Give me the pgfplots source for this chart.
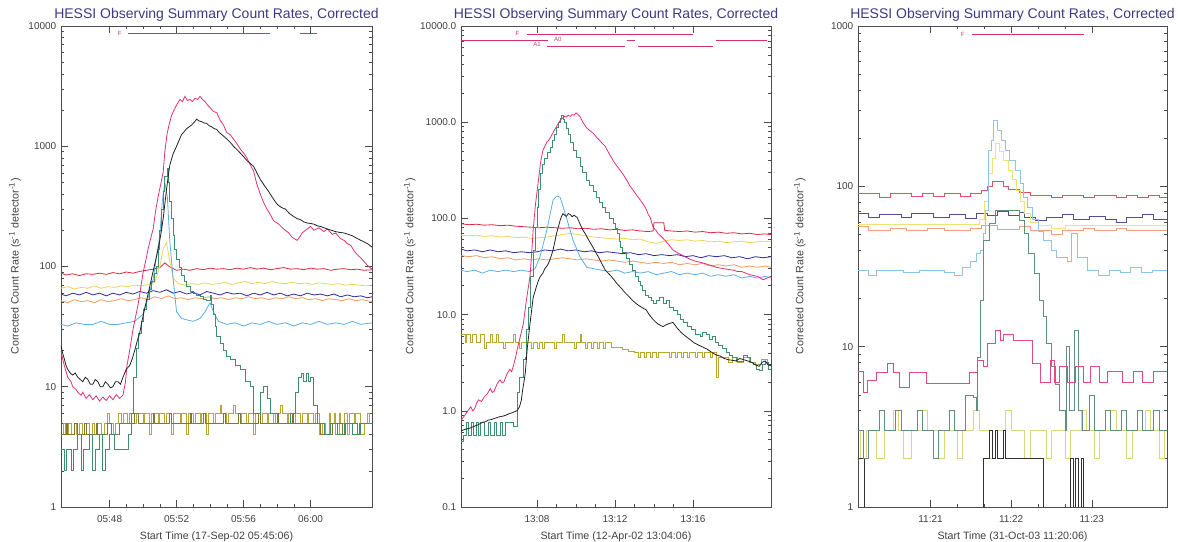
\documentclass[border=0pt]{standalone}
\usepackage{fontspec}
\setmainfont{Liberation Sans}
\usepackage{pgfplots}
\pgfplotsset{compat=1.18}

\definecolor{cblack}{HTML}{222222}
\definecolor{cpink}{HTML}{E0307A}
\definecolor{cgreen}{HTML}{3D8F6E}
\definecolor{ccyan}{HTML}{5AAEE6}
\definecolor{cred}{HTML}{D92B3A}
\definecolor{cyellow}{HTML}{F2D35A}
\definecolor{cblue}{HTML}{2B2BA0}
\definecolor{corange}{HTML}{F39A5E}
\definecolor{colive}{HTML}{B8A632}
\definecolor{colive2}{HTML}{7D7A2E}
\definecolor{c3red}{HTML}{E3506A}
\definecolor{c3blue}{HTML}{50509A}
\definecolor{c3salmon}{HTML}{F0A080}
\definecolor{c3yellow}{HTML}{ECE47A}
\definecolor{c3lblue}{HTML}{8CC4EA}
\definecolor{c3green}{HTML}{5F8F7F}
\definecolor{c3pink}{HTML}{E04A80}
\definecolor{c3ylow}{HTML}{D8D878}
\definecolor{c3black}{HTML}{333333}
\definecolor{titlecol}{HTML}{3A3A80}
\definecolor{flagcol}{HTML}{D8306A}

\pgfplotsset{hessi/.style={
  scale only axis, height=360.75pt, anchor=south west,
  axis line style={draw=black!70, line width=0.5pt},
  tick style={draw=black!70, line width=0.4pt},
  major tick length=5.5pt, minor tick length=2.5pt,
  tick align=inside,
  tick label style={font=\fontsize{7.5}{9}\selectfont, text=black!75},
  xticklabel style={yshift=-3pt},
  label style={font=\fontsize{8}{9.5}\selectfont, text=black!75},
  every axis title shift=0pt,
  title style={font=\fontsize{10.5}{12}\selectfont, text=titlecol, at={(axis description cs:0.5,1)}, anchor=south, yshift=0pt},
  title={HESSI Observing Summary Count Rates, Corrected},
  ylabel={Corrected Count Rate (s\textsuperscript{-1} detector\textsuperscript{-1})},
  every axis plot/.append style={line width=0.6pt, mark=none},
}}

\begin{document}
\begin{tikzpicture}
\path[use as bounding box] (0,0) rectangle (883.5pt,406.5pt);

% ================= PANEL 1 =================
\begin{axis}[ymode=log, hessi, at={(45.75pt,26.25pt)}, width=233.25pt,
  xmin=45.1, xmax=63.67, ymin=1, ymax=10000,
  xtick={48,52,56,60}, xticklabels={05:48,05:52,05:56,06:00}, minor x tick num=3,
  ytick={1,10,100,1000,10000}, yticklabels={1,10,100,1000,10000},
  xlabel={Start Time (17-Sep-02 05:45:06)},
  ylabel style={at={(axis description cs:-0.148,0.5)}, anchor=center},
]
% flat lines
\addplot[cred] coordinates {(45.1,88)(45.4,85)(45.8,87)(46.2,84)(46.6,87)(47.0,86)(47.4,88)(47.8,86)(48.2,89)(48.6,87)(49.0,90)(49.4,88)(49.8,91)(50.2,93)(50.6,95)(51.0,98)(51.3,107)(51.6,99)(52.0,93)(52.4,95)(52.8,93)(53.2,96)(53.6,94)(54.0,97)(54.4,95)(54.8,96)(55.2,94)(55.6,97)(56.0,95)(56.4,98)(56.8,95)(57.2,97)(57.6,94)(58.0,96)(58.4,98)(58.8,95)(59.2,96)(59.6,94)(60.0,97)(60.4,95)(60.8,96)(61.2,93)(61.6,95)(62.0,96)(62.4,94)(62.8,95)(63.2,93)(63.67,94)};
\addplot[cyellow] coordinates {(45.1,66)(45.5,68)(45.9,65)(46.3,67)(46.7,66)(47.1,69)(47.5,66)(47.9,68)(48.3,67)(48.7,69)(49.1,68)(49.5,70)(49.9,69)(50.3,71)(50.7,74)(51.0,100)(51.2,140)(51.4,158)(51.6,110)(51.8,80)(52.1,72)(52.5,70)(52.9,72)(53.3,71)(53.7,73)(54.1,71)(54.5,72)(54.9,74)(55.3,71)(55.7,73)(56.1,75)(56.5,72)(56.9,74)(57.3,72)(57.7,75)(58.1,73)(58.5,72)(58.9,74)(59.3,72)(59.7,73)(60.1,71)(60.5,73)(60.9,72)(61.3,71)(61.7,72)(62.1,70)(62.5,71)(62.9,70)(63.3,69)(63.67,70)};
\addplot[cblue] coordinates {(45.1,59)(45.4,57)(45.8,60)(46.2,58)(46.6,61)(47.0,58)(47.4,60)(47.8,57)(48.2,60)(48.6,58)(49.0,61)(49.4,59)(49.8,62)(50.2,60)(50.6,63)(51.0,61)(51.4,64)(51.8,60)(52.2,62)(52.6,59)(53.0,61)(53.4,58)(53.8,62)(54.2,60)(54.6,58)(55.0,61)(55.4,59)(55.8,60)(56.2,57)(56.6,60)(57.0,58)(57.4,61)(57.8,58)(58.2,60)(58.6,57)(59.0,59)(59.4,57)(59.8,60)(60.2,58)(60.6,59)(61.0,57)(61.4,59)(61.8,56)(62.2,58)(62.6,56)(63.0,57)(63.4,55)(63.67,56)};
\addplot[corange] coordinates {(45.1,52)(45.5,50)(45.9,53)(46.3,51)(46.7,52)(47.1,50)(47.5,53)(47.9,51)(48.3,52)(48.7,54)(49.1,52)(49.5,53)(49.9,55)(50.3,53)(50.7,56)(51.1,54)(51.5,57)(51.9,54)(52.3,55)(52.7,53)(53.1,55)(53.5,54)(53.9,56)(54.3,54)(54.7,55)(55.1,53)(55.5,55)(55.9,54)(56.3,56)(56.7,54)(57.1,55)(57.5,53)(57.9,55)(58.3,54)(58.7,56)(59.1,54)(59.5,55)(59.9,53)(60.3,54)(60.7,52)(61.1,54)(61.5,53)(61.9,52)(62.3,54)(62.7,52)(63.1,53)(63.67,51)};
% bottom noise
\addplot[colive, const plot] coordinates {(45.1,4)(45.25,5)(45.35,4)(45.55,5)(45.7,4)(45.9,5)(46.0,4)(46.2,5)(46.35,4)(46.6,5)(46.8,4)(47.0,5)(47.1,4)(47.3,5)(47.5,4)(47.7,5)(47.85,6)(48.0,5)(48.2,4)(48.35,5)(48.5,6)(48.7,5)(48.85,6)(49.05,5)(49.2,6)(49.5,5)(49.6,6)(50.0,5)(50.1,6)(50.4,4)(50.5,6)(50.9,5)(51.0,6)(51.3,5)(51.4,6)(51.7,4)(51.8,6)(52.2,5)(52.3,6)(52.6,4)(52.7,6)(53.0,5)(53.1,6)(53.4,5)(53.5,6)(53.8,4)(53.9,6)(54.2,5)(54.3,6)(54.6,7)(54.7,6)(55.0,5)(55.1,6)(55.4,7)(55.5,6)(55.8,5)(55.9,6)(56.2,5)(56.3,6)(56.6,4)(56.7,6)(57.0,5)(57.1,6)(57.4,5)(57.5,6)(57.8,5)(57.9,6)(58.2,7)(58.3,6)(58.6,5)(58.7,6)(59.0,5)(59.1,6)(59.4,5)(59.5,6)(59.8,5)(59.9,6)(60.2,5)(60.3,6)(60.5,4)(60.7,5)(60.9,4)(61.1,6)(61.2,5)(61.4,6)(61.5,4)(61.7,6)(61.8,5)(62.0,6)(62.2,4)(62.3,6)(62.6,5)(62.7,6)(63.0,4)(63.2,5)(63.4,6)(63.5,5)(63.67,5)};
\addplot[colive2, const plot] coordinates {(45.1,4)(45.4,5)(45.5,4)(45.9,5)(46.05,4)(46.5,5)(46.6,4)(47.2,5)(47.3,4)(47.9,5)(48.1,4)(48.6,5)(48.8,5)(49.4,5)(49.5,6)(49.7,5)(50.6,6)(50.7,5)(51.5,5)(51.6,6)(51.7,5)(52.8,6)(52.9,5)(53.6,6)(53.7,5)(54.8,6)(54.9,5)(55.7,6)(55.8,5)(56.9,6)(57.0,5)(58.0,6)(58.1,5)(58.9,6)(59.0,5)(60.0,5)(60.6,4)(61.0,4)(61.3,5)(61.9,4)(62.1,5)(62.8,4)(62.9,5)(63.67,5)};
% cyan
\addplot[ccyan] coordinates {(45.1,33)(45.5,32)(46.0,34)(46.5,33)(47.0,33)(47.5,35)(48.0,33)(48.5,33)(49.0,34)(49.5,35)(49.8,38)(50.0,40)(50.3,55)(50.6,78)(50.8,120)(51.0,180)(51.15,350)(51.3,500)(51.45,380)(51.6,160)(51.8,78)(52.0,42)(52.3,37)(52.6,36)(53.0,35)(53.4,37)(53.7,42)(54.0,50)(54.2,42)(54.5,35)(55.0,33)(55.5,34)(56.0,32)(56.5,34)(57.0,33)(57.5,35)(58.0,33)(58.5,34)(59.0,32)(59.5,34)(60.0,33)(60.5,35)(61.0,33)(61.5,34)(62.0,33)(62.5,35)(63.0,33)(63.67,34)};
% green
\addplot[cgreen, const plot] coordinates {(45.1,3)(45.3,2)(45.45,3)(45.7,2)(45.85,3)(46.1,4)(46.3,2)(46.45,3)(46.8,4)(47.0,2)(47.15,3)(47.4,4)(47.6,2)(47.75,3)(48.0,4)(48.3,3)(48.6,3)(48.9,3)(49.1,4)(49.3,6)(49.45,12)(49.6,21)(49.75,28)(49.9,35)(50.05,44)(50.2,53)(50.35,64)(50.5,75)(50.65,88)(50.8,100)(50.9,140)(51.0,200)(51.1,300)(51.2,420)(51.3,560)(51.43,650)(51.5,500)(51.6,350)(51.7,250)(51.8,180)(51.9,140)(52.0,115)(52.15,98)(52.3,85)(52.45,75)(52.6,68)(52.8,62)(53.0,60)(53.2,57)(53.4,56)(53.6,53)(53.8,52)(54.0,58)(54.1,48)(54.2,40)(54.3,32)(54.4,26)(54.6,23)(54.8,20)(55.0,18)(55.2,17)(55.5,15)(55.8,14)(56.1,11)(56.4,10)(56.6,6)(56.8,6)(57.0,9)(57.2,10)(57.4,8)(57.6,6)(58.0,5)(58.4,5)(58.8,6)(59.1,9)(59.3,12)(59.45,13)(59.6,11)(59.75,13)(59.9,11)(60.0,12)(60.2,7)(60.4,5)(60.8,4)(61.2,5)(61.6,4)(62.0,5)(62.5,4)(63.0,5)(63.67,5)};
% pink
\addplot[cpink] coordinates {(45.1,20)(45.2,17)(45.3,15)(45.5,12)(45.7,11)(45.8,10)(46.0,9.5)(46.1,9)(46.3,8.5)(46.4,9)(46.6,8)(46.8,8.6)(47.0,7.8)(47.2,8.4)(47.4,7.6)(47.6,8.2)(47.8,7.7)(48.0,8.4)(48.2,7.8)(48.4,8.6)(48.6,8)(48.8,8.5)(48.95,11)(49.04,15)(49.2,20)(49.4,30)(49.55,38)(49.7,48)(49.85,65)(50.0,89)(50.15,110)(50.3,140)(50.45,170)(50.6,205)(50.75,290)(50.9,380)(51.05,480)(51.2,610)(51.3,900)(51.43,1260)(51.55,1500)(51.7,1800)(51.85,2000)(52.0,2200)(52.2,2450)(52.35,2350)(52.5,2600)(52.65,2400)(52.8,2450)(52.95,2350)(53.1,2500)(53.25,2450)(53.4,2600)(53.55,2450)(53.7,2350)(53.85,2200)(54.0,2100)(54.2,1950)(54.4,1900)(54.6,1650)(54.8,1500)(55.0,1300)(55.2,1250)(55.4,1150)(55.6,1050)(55.8,950)(56.0,880)(56.2,800)(56.4,700)(56.6,620)(56.8,480)(57.0,400)(57.2,340)(57.4,300)(57.6,270)(57.8,240)(58.1,225)(58.4,205)(58.7,190)(58.9,175)(59.2,165)(59.4,180)(59.5,190)(59.7,200)(60.0,215)(60.2,200)(60.5,210)(60.8,195)(61.0,205)(61.3,185)(61.5,190)(61.8,170)(62.0,165)(62.2,155)(62.4,150)(62.6,135)(62.8,125)(63.0,118)(63.2,110)(63.4,102)(63.67,95)};
% black
\addplot[cblack] coordinates {(45.1,22)(45.2,19)(45.3,17)(45.4,15)(45.5,14)(45.65,13)(45.8,12.5)(45.95,13)(46.1,12)(46.25,11.5)(46.4,11)(46.55,12)(46.7,11.5)(46.85,10.5)(47.0,10.5)(47.15,11.5)(47.3,11)(47.45,10)(47.6,10)(47.75,11)(47.9,10.5)(48.05,9.8)(48.2,10)(48.35,11)(48.5,11)(48.65,10.5)(48.8,12)(49.0,14)(49.2,15)(49.35,17)(49.5,20)(49.65,24)(49.8,28)(49.95,36)(50.1,45)(50.25,55)(50.4,68)(50.55,85)(50.7,105)(50.85,130)(51.0,165)(51.1,200)(51.2,250)(51.3,330)(51.4,436)(51.5,560)(51.6,700)(51.7,780)(51.8,870)(51.9,930)(52.0,1000)(52.15,1120)(52.3,1250)(52.45,1320)(52.6,1400)(52.75,1450)(52.9,1500)(53.05,1580)(53.2,1680)(53.35,1620)(53.5,1600)(53.65,1560)(53.8,1550)(53.95,1480)(54.1,1450)(54.25,1400)(54.4,1380)(54.55,1300)(54.7,1250)(54.85,1200)(55.0,1150)(55.2,1080)(55.4,1000)(55.6,940)(55.8,880)(56.0,820)(56.2,760)(56.4,720)(56.6,680)(56.8,600)(57.0,530)(57.25,470)(57.5,420)(57.75,370)(58.0,330)(58.25,310)(58.5,300)(58.75,275)(59.0,260)(59.2,250)(59.4,245)(59.6,235)(59.8,230)(60.0,228)(60.2,225)(60.4,218)(60.6,215)(60.8,210)(61.0,205)(61.25,200)(61.5,195)(61.75,192)(62.0,190)(62.25,185)(62.5,180)(62.75,172)(63.0,165)(63.2,160)(63.4,155)(63.67,145)};
% flags
\addplot[flagcol, line width=0.7pt] coordinates {(49.1,8700)(57.6,8700)};
\addplot[flagcol, line width=0.7pt] coordinates {(59.37,8700)(60.4,8700)};
\node[text=flagcol, font=\fontsize{4.5}{5}\selectfont] at (axis cs:48.6,8700) {F};
\draw[blue!55!black, line width=0.6pt] (rel axis cs:0,0) -- (rel axis cs:1,0);
\end{axis}

% ================= PANEL 2 =================
\begin{axis}[ymode=log, hessi, at={(345.75pt,26.25pt)}, width=232.5pt,
  xmin=4.1, xmax=20.0, ymin=0.1, ymax=10000,
  xtick={8,12,16}, xticklabels={13:08,13:12,13:16}, minor x tick num=3,
  ytick={0.1,1,10,100,1000,10000}, yticklabels={0.1,1.0,10.0,100.0,1000.0,10000.0},
  xlabel={Start Time (12-Apr-02 13:04:06)},
  ylabel style={at={(axis description cs:-0.165,0.5)}, anchor=center},
]
\addplot[cred] coordinates {(4.1,88)(4.5,86)(4.9,87)(5.3,85)(5.7,86)(6.1,84)(6.5,85)(6.9,83)(7.3,82)(7.7,81)(8.1,80)(8.5,81)(8.9,80)(9.3,79)(9.7,80)(10.1,78)(10.5,79)(10.9,77)(11.3,78)(11.7,76)(12.1,77)(12.5,75)(12.9,76)(13.3,74)(13.7,73)(13.95,74)(14.0,90)(14.5,90)(14.55,75)(14.9,74)(15.3,73)(15.7,74)(16.1,72)(16.5,73)(16.9,71)(17.3,72)(17.7,70)(18.1,71)(18.5,69)(18.9,70)(19.3,68)(19.7,69)(20.0,68)};
\addplot[cyellow] coordinates {(4.1,67)(4.5,66)(4.9,67)(5.3,65)(5.7,66)(6.1,64)(6.5,65)(6.9,63)(7.3,64)(7.7,62)(8.1,63)(8.5,64)(8.9,66)(9.3,68)(9.7,70)(10.1,68)(10.5,66)(10.9,64)(11.3,63)(11.7,62)(12.1,61)(12.5,62)(12.9,60)(13.3,61)(13.7,57)(14.1,55)(14.5,58)(14.9,60)(15.3,59)(15.7,60)(16.1,58)(16.5,59)(16.9,57)(17.3,58)(17.7,56)(18.1,57)(18.5,58)(18.9,56)(19.3,57)(19.7,58)(20.0,57)};
\addplot[cblue] coordinates {(4.1,48)(4.4,46)(4.8,47)(5.2,45)(5.6,47)(6.0,45)(6.4,46)(6.8,44)(7.2,45)(7.6,44)(8.0,45)(8.4,47)(8.8,46)(9.2,48)(9.6,46)(10.0,47)(10.4,45)(10.8,46)(11.2,44)(11.6,45)(12.0,44)(12.4,43)(12.8,44)(13.2,42)(13.6,43)(14.0,41)(14.4,42)(14.8,41)(15.2,42)(15.6,40)(16.0,41)(16.4,39)(16.8,41)(17.2,40)(17.6,41)(18.0,39)(18.4,40)(18.8,38)(19.2,40)(19.6,39)(20.0,40)};
\addplot[corange] coordinates {(4.1,41)(4.5,40)(4.9,41)(5.3,39)(5.7,40)(6.1,38)(6.5,39)(6.9,37)(7.3,38)(7.7,37)(8.1,38)(8.5,37)(8.9,38)(9.3,39)(9.7,38)(10.1,37)(10.5,38)(10.9,37)(11.3,36)(11.7,37)(12.1,36)(12.5,35)(12.9,36)(13.3,35)(13.7,34)(14.1,35)(14.5,34)(14.9,35)(15.3,33)(15.7,34)(16.1,33)(16.5,34)(16.9,32)(17.3,33)(17.7,32)(18.1,33)(18.5,31)(18.9,32)(19.3,31)(19.7,32)(20.0,31)};
\addplot[ccyan] coordinates {(4.1,29)(4.4,28)(4.8,29)(5.2,27)(5.6,29)(6.0,28)(6.4,29)(6.8,28)(7.2,29)(7.6,28)(7.9,30)(8.15,40)(8.5,75)(8.82,155)(9.0,170)(9.18,166)(9.3,140)(9.5,103)(9.85,59)(10.2,40)(10.55,31)(10.9,30)(11.3,29)(11.7,28)(12.1,29)(12.5,27)(12.9,28)(13.3,27)(13.7,28)(14.1,26)(14.5,27)(14.9,28)(15.3,26)(15.7,27)(16.1,26)(16.5,27)(16.9,25)(17.3,26)(17.7,25)(18.1,26)(18.5,24)(18.9,25)(19.3,24)(19.7,25)(20.0,24)};
\addplot[colive, const plot] coordinates {(4.1,6.2)(4.3,5.1)(4.4,6.2)(4.6,5.1)(4.7,6.2)(4.9,5.1)(5.1,6.2)(5.3,4.5)(5.4,5.1)(5.6,6.2)(5.7,5.1)(5.9,6.2)(6.0,5.1)(6.3,4.5)(6.4,5.1)(6.6,5.1)(6.8,6.2)(6.9,5.1)(7.1,4.5)(7.2,5.1)(7.5,5.1)(7.7,4.5)(7.8,5.1)(8.0,4.5)(8.1,5.1)(8.3,4.5)(8.4,5.1)(8.7,5.1)(8.9,4.5)(9.0,5.1)(9.3,6.2)(9.4,5.1)(9.7,5.1)(9.9,4.5)(10.0,5.1)(10.2,6.2)(10.3,5.1)(10.5,4.5)(10.6,5.1)(10.8,4.5)(10.9,5.1)(11.1,4.5)(11.2,5.1)(11.4,4.5)(11.5,5.1)(11.8,4.6)(12.1,4.6)(12.4,4.3)(12.7,4.1)(13.0,4.0)(13.2,3.6)(13.3,4.0)(13.5,3.6)(13.6,4.0)(13.8,3.6)(13.9,4.0)(14.1,3.6)(14.2,4.0)(14.6,4.0)(14.8,3.6)(14.9,4.0)(15.1,3.6)(15.2,4.0)(15.4,3.6)(15.5,4.0)(15.7,3.6)(15.8,4.0)(16.1,3.6)(16.2,4.0)(16.5,3.6)(16.6,4.0)(16.9,3.6)(17.0,4.0)(17.2,2.2)(17.3,3.6)(17.6,3.6)(17.8,3.2)(18.0,3.6)(18.3,3.2)(18.6,3.6)(18.9,3.2)(19.2,3.0)(19.5,3.4)(19.8,3.0)(20.0,3.0)};
\addplot[cgreen, const plot] coordinates {(4.1,0.48)(4.2,0.55)(4.35,0.55)(4.4,0.75)(4.5,0.55)(4.65,0.75)(4.75,0.55)(4.9,0.75)(5.0,0.55)(5.1,0.75)(5.3,0.55)(5.5,0.75)(5.6,0.55)(5.8,0.75)(5.9,0.55)(6.1,0.75)(6.2,0.55)(6.4,0.75)(6.6,0.75)(6.77,0.69)(6.97,1.55)(7.1,2.2)(7.28,3.4)(7.4,3.6)(7.47,7)(7.54,12)(7.67,25)(7.8,47)(7.9,80)(8.0,130)(8.08,200)(8.15,295)(8.3,360)(8.4,420)(8.55,480)(8.66,550)(8.8,650)(8.9,750)(9.0,880)(9.1,1000)(9.18,1100)(9.26,1170)(9.33,1080)(9.4,1000)(9.5,870)(9.6,750)(9.72,620)(9.85,510)(10.0,430)(10.2,350)(10.35,300)(10.55,250)(10.7,220)(10.9,190)(11.05,165)(11.2,145)(11.35,130)(11.5,115)(11.7,100)(11.9,89)(12.0,78)(12.1,70)(12.2,58)(12.25,50)(12.4,44)(12.6,38)(12.75,33)(12.9,29)(13.05,25)(13.2,22)(13.3,20)(13.4,18)(13.55,16)(13.7,15)(13.85,14)(13.95,13)(14.1,14)(14.3,15)(14.5,13)(14.66,14)(14.8,12)(15.0,11)(15.2,10)(15.35,9)(15.5,8.3)(15.7,7.5)(15.9,7)(16.1,6.2)(16.36,5.9)(16.5,6.5)(16.7,6.2)(16.85,5.5)(17.0,5.9)(17.15,5.2)(17.3,4.8)(17.5,4.4)(17.7,4)(17.85,3.8)(18.0,3.6)(18.2,3.3)(18.4,3.3)(18.6,3.8)(18.8,3.6)(18.95,3.2)(19.1,3.0)(19.25,2.7)(19.4,2.6)(19.55,3.0)(19.7,3.2)(19.85,2.7)(20.0,2.8)};
\addplot[cpink] coordinates {(4.1,0.78)(4.2,0.85)(4.3,0.9)(4.45,1.0)(4.6,1.1)(4.7,1.0)(4.8,1.05)(4.9,1.2)(5.0,1.3)(5.15,1.25)(5.3,1.4)(5.45,1.5)(5.6,1.7)(5.7,1.55)(5.8,1.6)(5.95,1.9)(6.1,2.1)(6.2,1.95)(6.3,2.0)(6.45,2.4)(6.6,2.7)(6.7,2.55)(6.8,3.0)(6.9,3.6)(7.0,4.5)(7.15,6)(7.3,8.1)(7.45,14)(7.55,19)(7.64,25)(7.72,42)(7.8,75)(7.92,140)(8.05,230)(8.18,380)(8.3,510)(8.4,560)(8.5,620)(8.6,650)(8.7,700)(8.85,800)(9.0,900)(9.1,980)(9.2,1050)(9.3,1100)(9.4,1150)(9.5,1130)(9.6,1180)(9.7,1150)(9.8,1200)(9.9,1180)(10.0,1250)(10.1,1200)(10.2,1150)(10.35,1000)(10.55,870)(10.7,820)(10.9,760)(11.05,700)(11.2,650)(11.35,600)(11.5,560)(11.7,470)(11.9,400)(12.05,360)(12.2,330)(12.4,290)(12.6,250)(12.75,220)(12.9,200)(13.1,175)(13.3,155)(13.45,140)(13.6,125)(13.7,110)(13.8,103)(13.95,81)(14.1,75)(14.2,70)(14.4,64)(14.6,58)(14.8,52)(14.97,47)(15.2,44)(15.4,42)(15.6,40)(15.8,38)(16.1,36)(16.36,35)(16.6,34)(16.8,33)(17.0,32)(17.2,31)(17.4,30.5)(17.6,30)(17.8,29.5)(18.05,29)(18.3,28)(18.5,28)(18.7,27)(18.9,26)(19.1,25.5)(19.3,25)(19.45,24)(19.6,23)(19.8,24)(20.0,25)};
\addplot[cblack] coordinates {(4.1,0.62)(4.2,0.63)(4.3,0.64)(4.4,0.65)(4.55,0.66)(4.7,0.68)(4.85,0.7)(5.0,0.72)(5.1,0.74)(5.23,0.76)(5.35,0.77)(5.5,0.8)(5.65,0.81)(5.8,0.83)(5.95,0.85)(6.1,0.87)(6.25,0.88)(6.4,0.9)(6.55,0.93)(6.7,0.95)(6.85,0.98)(6.97,1.0)(7.1,1.1)(7.2,1.3)(7.25,1.6)(7.33,2.0)(7.4,2.5)(7.5,4.5)(7.57,6)(7.64,8.1)(7.72,11)(7.8,15)(7.95,19)(8.05,22)(8.15,24.6)(8.3,27)(8.4,30)(8.55,33)(8.66,37)(8.75,42)(8.82,47)(8.92,58)(9.0,70)(9.1,82)(9.18,95)(9.25,104)(9.33,112)(9.42,108)(9.5,105)(9.6,112)(9.7,110)(9.8,104)(9.9,108)(10.0,104)(10.05,103)(10.2,88)(10.36,75)(10.5,68)(10.6,62)(10.75,55)(10.87,50)(11.05,43)(11.2,38)(11.35,33)(11.5,29)(11.65,27)(11.8,25)(11.95,23)(12.1,21)(12.3,19)(12.5,17)(12.7,15.5)(12.9,14)(13.05,13.2)(13.2,12.5)(13.4,11.8)(13.6,11.2)(13.75,10)(13.95,8.9)(14.1,8.3)(14.2,8)(14.35,7.7)(14.46,7.5)(14.6,7.8)(14.8,8.1)(14.97,8.3)(15.2,7.2)(15.4,6.5)(15.6,6)(15.85,5.5)(16.05,5.1)(16.3,4.8)(16.5,4.6)(16.7,4.4)(16.85,4.2)(17.0,4.0)(17.2,3.8)(17.4,3.7)(17.6,3.5)(17.8,3.4)(18.0,3.35)(18.2,3.3)(18.4,3.5)(18.6,3.4)(18.8,3.3)(19.0,3.2)(19.2,3.0)(19.4,2.9)(19.55,3.2)(19.7,3.3)(19.85,3.0)(20.0,3.0)};
% flags
\addplot[flagcol, line width=0.6pt] coordinates {(7.48,8260)(16.0,8260)};
\addplot[flagcol, line width=0.6pt] coordinates {(4.1,7000)(8.56,7000)};
\addplot[flagcol, line width=0.6pt] coordinates {(12.6,7000)(13.0,7000)};
\addplot[flagcol, line width=0.6pt] coordinates {(17.2,7000)(19.8,7000)};
\addplot[flagcol, line width=0.6pt] coordinates {(8.51,6200)(12.5,6200)};
\addplot[flagcol, line width=0.6pt] coordinates {(13.2,6200)(17.0,6200)};
\node[text=flagcol, font=\fontsize{4.5}{5}\selectfont] at (axis cs:7.0,8300) {F};
\node[text=flagcol, font=\fontsize{4.5}{5}\selectfont] at (axis cs:9.07,7330) {A0};
\node[text=flagcol, font=\fontsize{4.5}{5}\selectfont] at (axis cs:8.0,6360) {A1};
\draw[blue!55!black, line width=0.6pt] (rel axis cs:0,0) -- (rel axis cs:1,0);
\end{axis}

% ================= PANEL 3 =================
\begin{axis}[ymode=log, hessi, at={(643.5pt,26.25pt)}, width=231.75pt,
  xmin=6, xmax=236, ymin=1, ymax=1000,
  xtick={60,120,180}, xticklabels={11:21,11:22,11:23}, minor x tick num=2,
  ytick={1,10,100,1000}, yticklabels={1,10,100,1000},
  xlabel={Start Time (31-Oct-03 11:20:06)},
  ylabel style={at={(axis description cs:-0.188,0.5)}, anchor=center},
]
\addplot[c3red, const plot] coordinates {(6,90)(22,85)(30,90)(46,86)(54,90)(62,86)(70,90)(82,86)(90,90)(98,94)(102,100)(106,108)(114,100)(118,96)(126,92)(134,88)(150,85)(158,88)(174,85)(182,88)(198,85)(206,88)(214,85)(222,88)(230,85)(236,85)};
\addplot[c3blue, const plot] coordinates {(6,68)(14,64)(22,67)(38,64)(46,68)(62,64)(74,67)(86,63)(94,68)(102,66)(110,70)(118,66)(126,69)(130,64)(138,61)(146,64)(158,67)(166,62)(178,65)(190,62)(198,60)(206,64)(218,67)(226,62)(236,62)};
\addplot[c3salmon, const plot] coordinates {(6,56)(14,53)(30,55)(42,53)(58,55)(70,53)(90,55)(98,57)(110,54)(126,56)(134,53)(150,50)(158,53)(174,55)(182,53)(198,55)(206,53)(236,53)};
\addplot[c3yellow, const plot] coordinates {(6,58)(40,58)(90,58)(96,62)(100,80)(103,120)(106,150)(108,185)(111,165)(114,145)(118,125)(121,110)(124,95)(127,80)(130,68)(134,60)(140,57)(150,55)(160,57)(236,57)};
\addplot[c3lblue, const plot] coordinates {(6,30)(14,28)(20,30)(40,29)(52,30)(70,29)(78,28)(84,31)(90,34)(94,38)(97,40)(99,51)(101,71)(103,167)(105,193)(107,258)(110,222)(113,193)(116,167)(119,145)(123,125)(127,104)(129,85)(132,74)(136,62)(140,52)(144,46)(150,40)(154,36)(162,34)(165,51)(169,36)(177,30)(185,28)(193,30)(201,29)(209,31)(217,29)(225,30)(236,30)};
\addplot[c3ylow, const plot] coordinates {(6,3)(8,2)(12,3)(20,2)(26,3)(32,4)(36,3)(40,2)(46,3)(54,4)(58,3)(66,2)(70,3)(80,2)(84,3)(92,4)(96,3)(104,2)(108,3)(116,4)(120,3)(130,2)(134,3)(146,2)(150,3)(160,2)(164,3)(172,4)(176,3)(182,2)(186,3)(194,4)(198,3)(206,2)(210,3)(220,4)(224,3)(230,2)(234,3)(236,3)};
\addplot[c3black, const plot] coordinates {(6,2)(11,1)(99,2)(104,3)(106,2)(108,3)(110,2)(114,3)(116,2)(125,2)(144,1)(164,2)(166,1)(168,2)(170,1)(172,2)(174,1)(236,1)};
\addplot[c3green, const plot] coordinates {(6,3)(10,2)(14,3)(22,4)(26,3)(34,4)(38,3)(50,4)(54,3)(62,2)(66,3)(74,4)(78,3)(86,5)(92,4.8)(94,4)(95,8.6)(97,19.5)(99,46)(104,59)(108,71)(126,61)(130,51)(133,38)(137,28.6)(141,19.5)(144,15.4)(146,10.5)(150,7.5)(153,5.8)(156,4)(160,3)(161,10)(163,4)(167,12.7)(170,4)(173,3)(178,5)(182,3)(190,4)(194,3)(202,4)(206,3)(214,4)(218,3)(226,4)(230,3)(236,3)};
\addplot[c3pink, const plot] coordinates {(6,7)(10,5.2)(13,6.2)(20,6.9)(28,7.9)(32,6.9)(37,5.6)(44,6.9)(57,5.9)(89,6.9)(95,8.2)(99,7.5)(102,10.5)(108,12.7)(112,11)(114,12)(122,11)(136,7.9)(142,6)(149,8.2)(152,6)(156,7.5)(162,6)(168,7.5)(174,6)(179,7.5)(186,6)(192,7)(203,6)(211,7)(218,6)(226,7)(236,7)};
\addplot[flagcol, line width=0.6pt] coordinates {(91,890)(174,890)};
\node[text=flagcol, font=\fontsize{4.5}{5}\selectfont] at (axis cs:84,890) {F};
\draw[blue!55!black, line width=0.6pt] (rel axis cs:0,0) -- (rel axis cs:1,0);
\end{axis}
\end{tikzpicture}
\end{document}
